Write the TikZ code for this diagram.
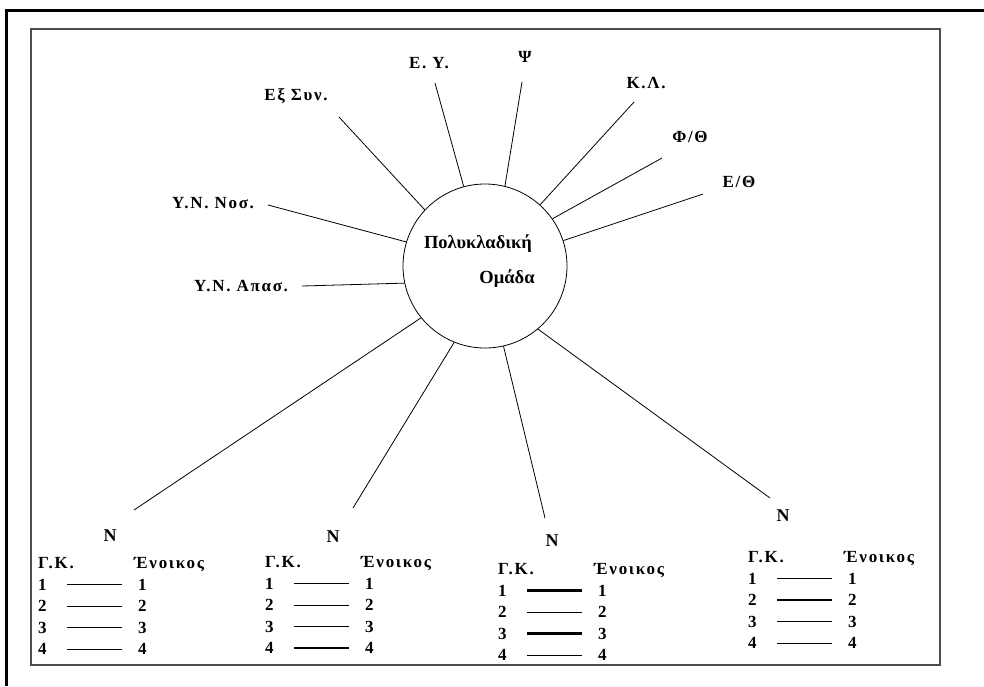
\documentclass[tikz,border=0pt]{standalone}
\usepackage{fontspec}
\setmainfont{Liberation Serif}
\newfontfamily\lblfont[LetterSpace=10]{Liberation Serif}
\tikzset{
  lbl/.style={font=\lblfont\bfseries\fontsize{17}{19}\selectfont, inner sep=0pt, text height=11pt, text depth=0pt},
  nlbl/.style={font=\bfseries\fontsize{18}{20}\selectfont, inner sep=0pt, text height=12pt, text depth=0pt},
  ctext/.style={font=\bfseries\fontsize{18.5}{20}\selectfont, inner sep=0pt, text height=12pt, text depth=0pt},
  spoke/.style={line width=0.8pt},
  row/.style={line width=0.9pt},
  boldrow/.style={line width=2.2pt},
}
\newcommand{\gkblock}[4]{%
  \node[lbl,anchor=west] (#1h) at (#2,#3) {Γ.Κ.};
  \node[lbl,anchor=west] (#1e) at ({#2+96},#3) {Ένοικος};
  \foreach \rw/\rst in {#4}{
    \node[lbl,anchor=west] (#1l\rw) at (#2,{#3+21.5*\rw}) {\rw};
    \node[lbl,anchor=west] (#1r\rw) at ({#2+100},{#3+21.5*\rw}) {\rw};
    \draw[\rst] ([xshift=29pt]#1l\rw.west) -- ([xshift=-16pt]#1r\rw.west);
  }
}
\begin{document}
\begin{tikzpicture}[x=1pt,y=-1pt]
\fill[white] (0,0) rectangle (984,686);
\useasboundingbox (0,0) rectangle (984,686);
% frames
\draw[line width=3pt,black] (984,10) -- (6,10) -- (6,686);
\draw[line width=2pt,black!70] (31,29) rectangle (940,665);
% centre
\node[draw,circle,minimum size=164pt,inner sep=0pt,line width=0.8pt] (pg) at (485,266) {};
\node[ctext] (pg1) at (478,242) {Πολυκλαδική};
\node[ctext] (pg2) at (507,277) {Ομάδα};
% top labels
\node[lbl] (ey) at (429,63) {Ε. Υ.};
\node[lbl] (psi) at (525,57) {Ψ};
\node[lbl] (exs) at (296,95) {Εξ Συν.};
\node[lbl] (kl) at (646,83) {Κ.Λ.};
\node[lbl] (ft) at (690,137) {Φ/Θ};
\node[lbl] (et) at (739,182) {Ε/Θ};
\node[lbl] (ynn) at (213,203) {Υ.Ν. Νοσ.};
\node[lbl] (yna) at (241,286) {Υ.Ν. Απασ.};
% free ends
\coordinate (cey) at (435,83);
\coordinate (cpsi) at (522,82);
\coordinate (cexs) at (339,117);
\coordinate (cynn) at (268,205);
\coordinate (cyna) at (302,286);
\coordinate (ckl) at (634,102);
\coordinate (cft) at (662,158);
\coordinate (cet) at (703,194);
\coordinate (ca) at (134,510);
\coordinate (cb) at (353,508);
\coordinate (cc) at (545,518);
\coordinate (cd) at (770,498);
% spokes
\draw[spoke] (pg.105.6) -- (cey);
\draw[spoke] (pg.76) -- (cpsi);
\draw[spoke] (pg.137.4) -- (cexs);
\draw[spoke] (pg.163.8) -- (cynn);
\draw[spoke] (pg.192.7) -- (cyna);
\draw[spoke] (pg.48.9) -- (ckl);
\draw[spoke] (pg.35.4) -- (cft);
\draw[spoke] (pg.18.6) -- (cet);
\draw[spoke] (pg.219.2) -- (ca);
\draw[spoke] (pg.248.2) -- (cb);
\draw[spoke] (pg.283.9) -- (cc);
\draw[spoke] (pg.310.7) -- (cd);
% N labels
\node[nlbl] (n1) at (110,535) {N};
\node[nlbl] (n2) at (333,536) {N};
\node[nlbl] (n3) at (552,540) {N};
\node[nlbl] (n4) at (783,515) {N};
% tables
\gkblock{ta}{38}{563}{1/row,2/row,3/row,4/row}
\gkblock{tb}{265}{562}{1/row,2/row,3/row,4/boldrow}
\gkblock{tc}{498}{569}{1/boldrow,2/row,3/boldrow,4/row}
\gkblock{td}{748}{557}{1/row,2/boldrow,3/row,4/row}
\end{tikzpicture}
\end{document}
